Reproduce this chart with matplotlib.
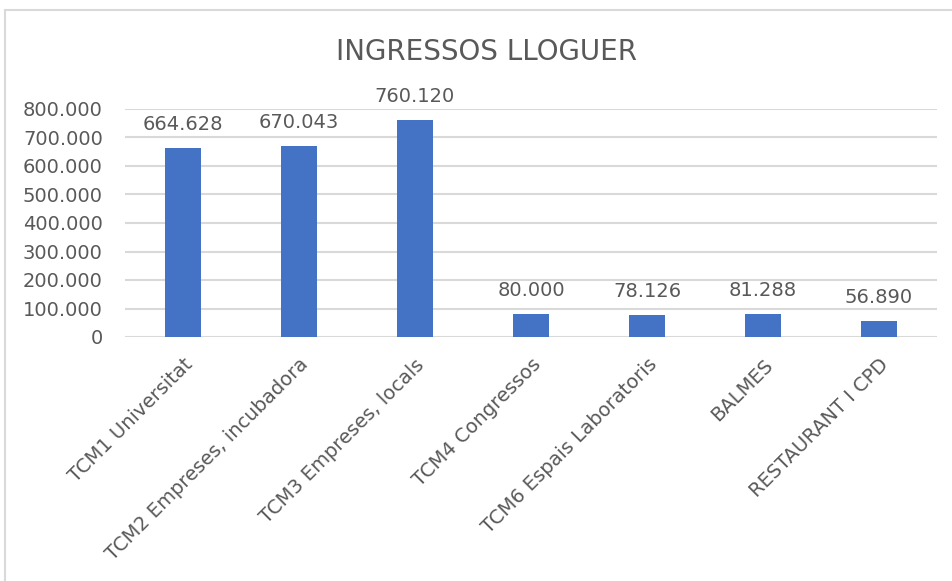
import matplotlib.pyplot as plt
from matplotlib.patches import Rectangle
from matplotlib.ticker import FuncFormatter

# data
categories = ['TCM1 Universitat', 'TCM2 Empreses, incubadora', 'TCM3 Empreses, locals',
              'TCM4 Congressos', 'TCM6 Espais Laboratoris', 'BALMES', 'RESTAURANT I CPD']
ingressos = [664628, 670043, 760120, 80000, 78126, 81288, 56890]
y_ticks = [0, 100000, 200000, 300000, 400000, 500000, 600000, 700000, 800000]

text_grey = '#595959'
bar_blue = '#4472C4'
grid_grey = '#d9d9d9'


def dots(v, pos=None):
    return f'{int(round(v)):,}'.replace(',', '.')


fig = plt.figure(figsize=(9.53, 5.81), dpi=100)
fig.patches.append(Rectangle((5 / 953, -0.1), 1.1, 0.1 + 1 - 10 / 581, transform=fig.transFigure,
                             fill=False, edgecolor=grid_grey, linewidth=1.5))

ax = fig.add_axes([125 / 953, 1 - 337 / 581, 812 / 953, 228 / 581])
x = range(len(categories))
bars = ax.bar(x, ingressos, width=0.31, color=bar_blue, zorder=3)

ax.set_xlim(-0.5, len(categories) - 0.5)
ax.set_ylim(0, 800000)
ax.set_yticks(y_ticks)
ax.yaxis.set_major_formatter(FuncFormatter(dots))
ax.grid(axis='y', color=grid_grey, linewidth=1.5, zorder=0)
for s in ax.spines.values():
    s.set_visible(False)
ax.tick_params(axis='y', length=0, pad=16, labelsize=14, labelcolor=text_grey)
ax.tick_params(axis='x', length=0, pad=13, labelsize=14, labelcolor=text_grey)
ax.set_xticks(list(x))
ax.set_xticklabels(categories, rotation=45, ha='right', rotation_mode='anchor')

for b, v in zip(bars, ingressos):
    ax.annotate(dots(v), (b.get_x() + b.get_width() / 2, v), xytext=(0, 14),
                textcoords='offset pixels', ha='center', va='bottom',
                fontsize=14, color=text_grey)

fig.text(487 / 953, 1 - 52 / 581, 'INGRESSOS LLOGUER', ha='center', va='center',
         fontsize=20, color=text_grey)

fig.savefig('out.png', dpi=100)
